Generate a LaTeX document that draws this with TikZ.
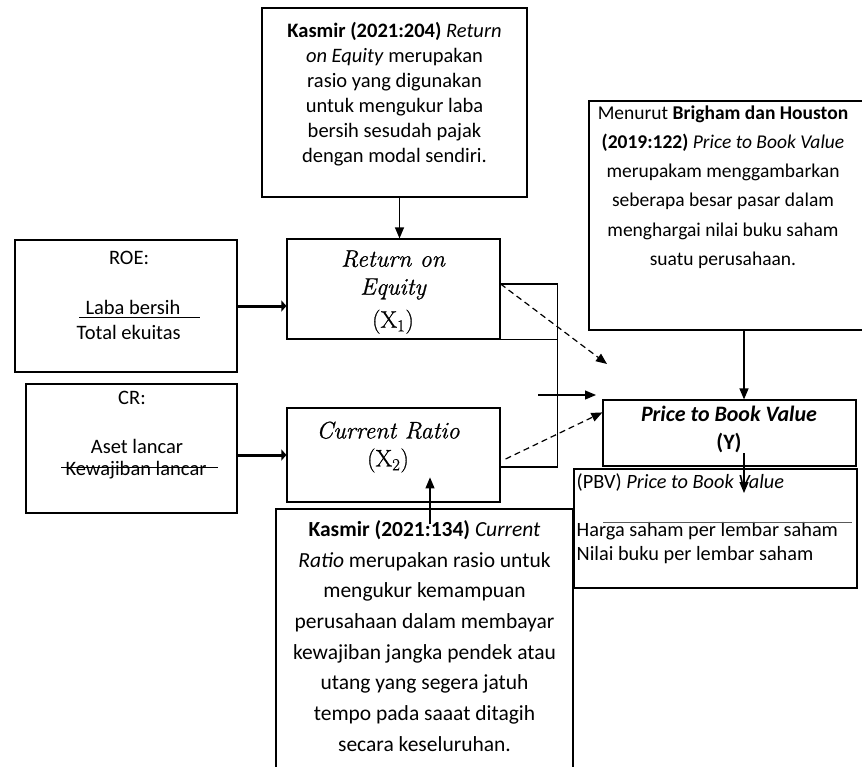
\documentclass[tikz,border=0pt]{standalone}
\usepackage{fontspec}
\newfontfamily\calibri{Carlito}
\newfontfamily\cambria[FakeBold=0.8]{Latin Modern Roman}
\usetikzlibrary{arrows.meta}
\tikzset{
  box/.style={draw, line width=1.2pt, inner sep=0pt},
  body/.style={font=\calibri\fontsize{20.5}{25}\selectfont, align=center, inner sep=0pt},
  title/.style={font=\cambria\fontsize{24}{28}\selectfont\itshape, align=center, inner sep=0pt},
  arr/.style={line width=1.2pt, -{Triangle[length=11pt,width=9pt]}},
  fatarr/.style={line width=3pt, -{Triangle[length=5pt,width=11pt]}},
  dasharr/.style={line width=1.2pt, dash pattern=on 6pt off 4pt, -{Triangle[length=11pt,width=9pt]}}
}
\begin{document}
\begin{tikzpicture}[x=1pt,y=-1pt]
        \clip (0,0) rectangle (862,766);
        \node[box, minimum width=265, minimum height=189] (t1) at (394.5,102.5) {};
        \node[box, minimum width=222, minimum height=132] (roef) at (126,306) {};
        \node[box, minimum width=213, minimum height=100] (roe) at (393.5,289) {};
        \node[box, minimum width=211, minimum height=129] (crf) at (131.5,448.5) {};
        \node[box, minimum width=213, minimum height=94] (cr) at (393.5,455) {};
        \node[box, minimum width=286, minimum height=229] (trb) at (732,215.5) {};
        \node[box, minimum width=253, minimum height=66] (pbv) at (729.5,433) {};
        \node[box, minimum width=283, minimum height=119] (pbvf) at (715.5,528.5) {};
        \node[box, minimum width=297, minimum height=291] (crk) at (424.5,654.5) {};
        \node[body] (t1t) at (394.5,94) {\textbf{Kasmir (2021:204)} \textit{Return}\\\textit{on Equity} merupakan\\rasio yang digunakan\\untuk mengukur laba\\bersih sesudah pajak\\dengan modal sendiri.};
        \node[title] (roet) at (393,292) {Return on\\Equity\\[5pt]{\upshape(X\textsubscript{1})}};
        \node[title] (crt) at (388,447) {Current Ratio\\{\upshape(X\textsubscript{2})}};
        \node[body, font=\calibri\fontsize{22}{28}\selectfont] (pbvt) at (729,429) {\textbf{\textit{Price to Book Value}}\\\textbf{(Y)}};
        \node[body, font=\calibri\fontsize{19.5}{29.3}\selectfont] (trt) at (723,187) {Menurut \textbf{Brigham dan Houston}\\\textbf{(2019:122)} \textit{Price to Book Value}\\merupakam menggambarkan\\seberapa besar pasar dalam\\menghargai nilai buku saham\\suatu perusahaan.};
        \node[body, font=\calibri\fontsize{21.5}{30.7}\selectfont] (crkt) at (424.5,636) {\textbf{Kasmir (2021:134)} \textit{Current}\\\textit{Ratio} merupakan rasio untuk\\mengukur kemampuan\\perusahaan dalam membayar\\kewajiban jangka pendek atau\\utang yang segera jatuh\\tempo pada saaat ditagih\\secara keseluruhan.};
        \node[body, align=left, anchor=west, font=\calibri\fontsize{20.3}{24}\selectfont] (pbvft) at (576.5,519) {(PBV) \textit{Price to Book Value}\\[24pt]Harga saham per lembar saham\\Nilai buku per lembar saham};
        \node[body] (roel) at (129,258) {ROE:};
        \node[body] (roen) at (133,307.5) {Laba bersih};
        \node[body] (roed) at (128.7,332) {Total ekuitas};
        \node[body] (crl) at (132,398) {CR:};
        \node[body] (crn) at (137,446) {Aset lancar};
        \node[body] (crd) at (136,470) {Kewajiban lancar};
        \draw[line width=1.2pt] (79,317.7) -- (200,317.7);
        \draw[line width=1.2pt] (61,467.3) -- (218,467.3);
        \draw[line width=1.3pt, gray!70!black] (603,522.7) -- (851.7,522.7);
        \draw[arr] ([xshift=5pt]t1.south) -- ([xshift=5pt]t1.south |- roe.north);
        \draw[fatarr] (roef.east) -- (roef.east -| roe.west);
        \draw[fatarr] (cr.west -| crf.east) -- (cr.west);
        \draw[line width=1.2pt] ([yshift=5pt]roe.east) -| ([xshift=57pt,yshift=-12pt]cr.east) -- ([yshift=-12pt]cr.east);
        \draw[line width=1.2pt] (roe.south east) -- ++(57,0);
        \coordinate (d1) at (607,364);
        \draw[dasharr] ([yshift=5pt]roe.east) -- (d1);
        \draw[dasharr] ([xshift=5pt,yshift=-4pt]cr.east) -- ([yshift=-13pt]pbv.north west);
        \coordinate (jin) at (538,395);
        \coordinate (jout) at (596,395);
        \draw[arr] (jin) -- (jout);
        \draw[arr] ([xshift=12pt]trb.south) -- ([xshift=12pt]trb.south |- pbv.north);
        \draw[arr] ([xshift=14.5pt,yshift=-20pt]pbv.center) -- ++(0,40);
        \draw[arr] ([xshift=5.5pt,yshift=-16pt]crk.north) -- ++(0,-47);
\end{tikzpicture}
\end{document}
